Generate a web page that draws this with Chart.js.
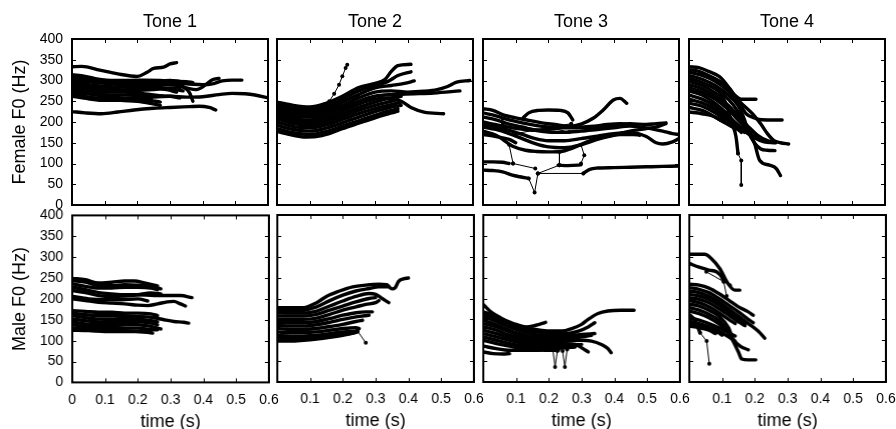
<!DOCTYPE html>
<html><head><meta charset="utf-8">
<script src="https://cdn.jsdelivr.net/npm/chart.js@4.4.0/dist/chart.umd.min.js"></script>
<style>
html,body{margin:0;padding:0;background:#fff;}
#wrap{position:relative;width:896px;height:429px;overflow:hidden;background:#fff;}
#wrap canvas{position:absolute;}
</style></head><body><div id="wrap"></div>
<script>
// ---------- labels ----------
const TONES = ['Tone 1', 'Tone 2', 'Tone 3', 'Tone 4'];
const ROW_LABELS = ['Female F0 (Hz)', 'Male F0 (Hz)'];
const X_LABEL = 'time (s)';
const X_TICKS = [0, 0.1, 0.2, 0.3, 0.4, 0.5, 0.6];
const X_TICK_LABELS = ['0', '0.1', '0.2', '0.3', '0.4', '0.5', '0.6'];
const Y_TICKS = [0, 50, 100, 150, 200, 250, 300, 350, 400];

// ---------- F0 contours: [time (s), F0 (Hz)] ----------
const FEMALE_T1 = [
 [[0,333],[0.03,334],[0.085,325],[0.14,316],[0.2,310],[0.23,320],[0.25,329],[0.28,332],[0.3,340],[0.32,343]],
 [[0,225],[0.04,222],[0.09,220],[0.14,224],[0.19,229],[0.25,233],[0.3,235],[0.36,237],[0.39,238],[0.42,235],[0.44,229]],
 [[0,272],[0.05,268],[0.1,266],[0.15,265],[0.2,264],[0.25,262],[0.3,262],[0.35,260],[0.4,261],[0.45,266],[0.49,269],[0.53,268],[0.56,265],[0.6,258]],
 [[0,305],[0.05,300],[0.1,298],[0.15,296],[0.2,295],[0.25,294],[0.3,293],[0.35,292],[0.4,290],[0.43,292],[0.46,299],[0.49,301],[0.52,301]],
 [[0,300],[0.05,297],[0.1,293],[0.15,291],[0.2,290],[0.25,291],[0.3,290],[0.35,282],[0.38,278],[0.41,290],[0.43,302],[0.45,305]],
 [[0,285],[0.05,283],[0.1,282],[0.15,284],[0.2,288],[0.25,291],[0.3,291],[0.34,285],[0.36,270],[0.37,250]],
 [[0,314],[0.04,310],[0.08,303],[0.12,300],[0.17,300],[0.22,301],[0.27,300],[0.31,298],[0.35,297],[0.37,295]],
 [[0,295],[0.05,290],[0.1,286],[0.15,284],[0.2,283],[0.25,282],[0.29,278],[0.32,272]],
 [[0,290],[0.05,283],[0.1,278],[0.15,276],[0.2,276],[0.25,278],[0.3,282],[0.33,280]],
 [[0,280],[0.05,275],[0.1,272],[0.15,272],[0.2,270],[0.25,265],[0.28,262]],
 [[0,276],[0.05,268],[0.1,262],[0.15,258],[0.2,256],[0.24,252],[0.27,248]],
 [[0,268],[0.05,260],[0.1,256],[0.15,252],[0.2,250],[0.24,245],[0.27,240]],
 [[0,262],[0.05,256],[0.1,252],[0.15,252],[0.2,255],[0.25,260],[0.3,262],[0.33,258]],
 [[0,308],[0.05,303],[0.1,300],[0.15,298],[0.2,297],[0.25,298],[0.3,300],[0.33,298]],
 [[0,283],[0.05,279],[0.1,280],[0.15,285],[0.2,287],[0.25,285],[0.3,280],[0.34,275]]
];
const FEMALE_T1_LINKS = [];

const FEMALE_T2 = [
 [[0,238],[0.05,230],[0.1,228],[0.145,232]],
 [[0,248],[0.05,240],[0.1,236],[0.15,245],[0.2,262],[0.25,283],[0.3,293],[0.33,302],[0.35,322],[0.37,336],[0.41,339]],
 [[0,242],[0.05,233],[0.1,230],[0.15,238],[0.2,255],[0.25,275],[0.3,288],[0.34,298],[0.37,312],[0.41,321]],
 [[0,236],[0.05,226],[0.1,224],[0.15,232],[0.2,248],[0.25,266],[0.3,282],[0.35,288],[0.39,293],[0.42,299]],
 [[0,230],[0.05,220],[0.1,218],[0.15,226],[0.2,240],[0.25,258],[0.3,272],[0.35,275],[0.4,272],[0.45,274],[0.49,278],[0.52,285],[0.55,296],[0.59,300]],
 [[0,224],[0.05,214],[0.1,212],[0.15,220],[0.2,234],[0.25,250],[0.3,262],[0.35,266],[0.42,268],[0.48,270],[0.56,275]],
 [[0,220],[0.05,208],[0.1,205],[0.15,213],[0.2,227],[0.25,243],[0.3,255],[0.34,258],[0.38,250],[0.41,235],[0.45,224],[0.51,220]],
 [[0,214],[0.05,202],[0.1,199],[0.15,206],[0.2,220],[0.25,235],[0.3,248],[0.35,258],[0.38,262]],
 [[0,208],[0.05,196],[0.1,193],[0.15,200],[0.2,213],[0.25,228],[0.3,240],[0.35,250],[0.37,254]],
 [[0,200],[0.05,189],[0.1,186],[0.15,193],[0.2,206],[0.25,220],[0.3,232],[0.35,242],[0.38,248]],
 [[0,192],[0.05,182],[0.1,178],[0.15,185],[0.2,198],[0.25,212],[0.3,225],[0.35,236],[0.38,240]],
 [[0,184],[0.05,174],[0.1,170],[0.15,177],[0.2,190],[0.25,203],[0.3,216],[0.34,226],[0.37,232]],
 [[0,177],[0.05,168],[0.08,164],[0.12,165],[0.16,172],[0.2,184],[0.25,197],[0.3,210],[0.35,222],[0.37,226]]
];
const FEMALE_T2_LINKS = [
 [[0.145,232],[0.16,250],[0.175,268],[0.19,290],[0.2,310],[0.21,330],[0.215,338]]
];

const FEMALE_T3 = [
 [[0,232],[0.03,228],[0.06,218],[0.1,210],[0.14,204],[0.18,198],[0.22,194],[0.26,190],[0.3,188],[0.34,190],[0.38,194],[0.42,196],[0.46,193]],
 [[0,222],[0.04,215],[0.08,205],[0.12,198],[0.16,192],[0.2,188],[0.25,186],[0.3,186],[0.35,188],[0.4,192],[0.45,196],[0.5,194],[0.53,196],[0.56,198]],
 [[0,212],[0.04,205],[0.08,195],[0.12,188],[0.16,180],[0.2,176],[0.25,175],[0.3,178],[0.35,182],[0.4,186],[0.45,190],[0.5,186],[0.55,178],[0.58,172],[0.6,170]],
 [[0,200],[0.05,192],[0.1,185],[0.15,180],[0.2,182],[0.25,188],[0.3,195],[0.337,209],[0.368,229],[0.399,253],[0.419,257],[0.44,245]],
 [[0,195],[0.04,188],[0.08,180],[0.12,170],[0.16,160],[0.2,155],[0.25,155],[0.3,160],[0.35,166],[0.4,172],[0.45,175],[0.5,165],[0.53,150],[0.55,147],[0.58,152],[0.6,160]],
 [[0,188],[0.04,182],[0.08,172],[0.12,160],[0.16,148],[0.2,140],[0.25,138],[0.3,145],[0.35,158],[0.4,168],[0.45,178],[0.5,184],[0.54,190],[0.56,196]],
 [[0,178],[0.04,168],[0.093,141],[0.13,132],[0.164,129],[0.2,128],[0.24,129],[0.27,136],[0.297,145],[0.33,156],[0.37,164],[0.42,170],[0.46,170],[0.48,168]],
 [[0.123,210],[0.14,222],[0.17,228],[0.2,229],[0.236,228],[0.26,222],[0.275,205]],
 [[0,170],[0.04,165],[0.08,158],[0.1,150]],
 [[0,104],[0.03,104],[0.06,103],[0.08,100]],
 [[0,84],[0.03,83],[0.06,80],[0.09,72],[0.113,68],[0.14,64]],
 [[0.307,76],[0.327,86],[0.35,89],[0.4,90],[0.45,91],[0.5,92],[0.55,93],[0.6,94]],
 [[0.23,96],[0.26,95],[0.29,96],[0.3,97]]
];
const FEMALE_T3_LINKS = [
 [[0.061,208],[0.264,176]],
 [[0.061,196],[0.2,179]],
 [[0.1,172],[0.27,196]],
 [[0.08,145],[0.092,100]],
 [[0.092,100],[0.16,88]],
 [[0.14,64],[0.158,30],[0.168,76]],
 [[0.168,76],[0.234,96]],
 [[0.234,128],[0.234,96]],
 [[0.168,76],[0.307,76]],
 [[0.3,145],[0.31,120],[0.3,100]]
];

const FEMALE_T4 = [
 [[0,333],[0.03,331],[0.06,322],[0.094,309],[0.124,281],[0.155,244],[0.175,220],[0.2,210],[0.216,206],[0.25,205],[0.285,205]],
 [[0,326],[0.03,322],[0.06,312],[0.09,300],[0.12,283],[0.14,265],[0.16,255],[0.18,255],[0.205,255]],
 [[0,320],[0.04,312],[0.08,298],[0.12,275],[0.16,245],[0.2,215],[0.22,195],[0.24,172],[0.26,155],[0.28,150],[0.305,147]],
 [[0,312],[0.04,303],[0.08,288],[0.12,265],[0.15,240],[0.17,205],[0.18,180],[0.2,150],[0.22,135],[0.24,132],[0.263,131]],
 [[0,305],[0.04,295],[0.08,280],[0.12,255],[0.15,225],[0.18,180],[0.2,150],[0.216,108],[0.246,96],[0.267,88],[0.28,71]],
 [[0,298],[0.04,288],[0.08,270],[0.11,250],[0.13,200],[0.144,164],[0.15,124]],
 [[0,290],[0.04,280],[0.08,262],[0.12,240],[0.15,215],[0.18,190],[0.21,168],[0.24,155],[0.265,150]],
 [[0,282],[0.04,272],[0.08,255],[0.12,230],[0.15,205],[0.18,180],[0.2,165],[0.22,160]],
 [[0,275],[0.04,265],[0.08,245],[0.11,225],[0.14,200],[0.17,180],[0.19,170]],
 [[0,265],[0.04,255],[0.08,238],[0.11,220],[0.14,198],[0.17,178],[0.2,162],[0.23,152],[0.26,150]],
 [[0,255],[0.04,246],[0.08,230],[0.11,212],[0.14,190],[0.16,175]],
 [[0,245],[0.04,238],[0.08,222],[0.11,205],[0.14,188],[0.17,175]],
 [[0,235],[0.04,228],[0.08,212],[0.11,198],[0.14,185]],
 [[0,224],[0.04,220],[0.07,215],[0.1,203],[0.13,192],[0.15,182]]
];
const FEMALE_T4_LINKS = [
 [[0.15,124],[0.16,107],[0.16,48]]
];

const MALE_T1 = [
 [[0,249],[0.04,246],[0.08,238],[0.12,240],[0.16,243],[0.19,243],[0.22,238],[0.26,231]],
 [[0,244],[0.04,240],[0.08,232],[0.12,232],[0.16,234],[0.2,233],[0.24,230],[0.27,224]],
 [[0,236],[0.04,230],[0.08,226],[0.12,226],[0.16,228],[0.2,228],[0.24,226],[0.26,222]],
 [[0,228],[0.04,222],[0.08,215],[0.12,212],[0.16,210],[0.2,210],[0.25,208],[0.3,208],[0.33,208],[0.365,203]],
 [[0,220],[0.04,215],[0.08,208],[0.12,206],[0.16,207],[0.2,210],[0.24,214],[0.27,212]],
 [[0,206],[0.05,200],[0.1,198],[0.15,198],[0.2,200],[0.23,195]],
 [[0,200],[0.04,196],[0.08,192],[0.12,190],[0.16,188],[0.2,185],[0.23,184],[0.26,188],[0.29,193],[0.31,194],[0.33,188],[0.345,183]],
 [[0,172],[0.04,170],[0.08,168],[0.12,168],[0.16,166],[0.2,166],[0.24,164],[0.26,160]],
 [[0,166],[0.04,162],[0.08,160],[0.12,160],[0.16,160],[0.2,158],[0.24,156],[0.28,150],[0.31,146],[0.34,144],[0.355,142]],
 [[0,160],[0.04,155],[0.08,152],[0.12,152],[0.16,153],[0.2,152],[0.24,148],[0.26,145]],
 [[0,152],[0.04,148],[0.08,145],[0.12,146],[0.16,146],[0.2,146],[0.24,142],[0.26,138]],
 [[0,145],[0.04,140],[0.08,138],[0.12,138],[0.16,138],[0.2,138],[0.24,134],[0.27,128]],
 [[0,138],[0.04,134],[0.08,132],[0.12,132],[0.16,130],[0.2,130],[0.23,127],[0.26,126]],
 [[0,130],[0.04,128],[0.08,126],[0.12,126],[0.16,124],[0.2,122],[0.23,120],[0.245,118]],
 [[0,125],[0.05,124],[0.1,122],[0.15,122],[0.2,122],[0.24,120]]
];
const MALE_T1_LINKS = [];

const MALE_T2 = [
 [[0,178],[0.04,178],[0.08,178],[0.12,190],[0.15,205],[0.19,218],[0.23,228],[0.27,232],[0.31,234],[0.334,233],[0.35,223],[0.36,226],[0.37,241],[0.385,247],[0.4,249]],
 [[0,172],[0.04,172],[0.08,172],[0.12,180],[0.16,195],[0.2,208],[0.24,218],[0.28,224],[0.31,228],[0.34,228]],
 [[0,166],[0.04,165],[0.08,165],[0.12,170],[0.16,182],[0.2,194],[0.24,205],[0.28,212],[0.3,210],[0.32,200],[0.34,190]],
 [[0,158],[0.04,158],[0.08,158],[0.12,162],[0.16,172],[0.2,182],[0.24,192],[0.28,200],[0.3,202]],
 [[0,150],[0.04,150],[0.08,150],[0.12,153],[0.16,162],[0.2,172],[0.24,180],[0.27,186],[0.3,190],[0.31,195]],
 [[0,142],[0.04,142],[0.08,142],[0.12,145],[0.16,152],[0.2,160],[0.24,166],[0.27,168],[0.29,168]],
 [[0,135],[0.04,134],[0.08,134],[0.12,137],[0.16,143],[0.2,150],[0.24,156],[0.28,160]],
 [[0,128],[0.04,126],[0.08,126],[0.12,128],[0.16,133],[0.2,138],[0.24,145],[0.26,148]],
 [[0,120],[0.04,118],[0.08,118],[0.12,120],[0.16,124],[0.2,128],[0.24,130],[0.25,128]],
 [[0,112],[0.04,110],[0.08,110],[0.12,112],[0.16,116],[0.2,120],[0.24,122],[0.245,124]],
 [[0,105],[0.04,104],[0.08,104],[0.12,106],[0.16,110],[0.2,114],[0.24,119],[0.245,122]],
 [[0,98],[0.04,98],[0.08,100],[0.12,103],[0.16,107],[0.2,112],[0.23,117],[0.245,120]]
];
const MALE_T2_LINKS = [
 [[0.245,122],[0.27,94]]
];

const MALE_T3 = [
 [[0,186],[0.02,170],[0.05,155],[0.08,142],[0.12,132],[0.16,126],[0.2,122],[0.24,122],[0.27,128],[0.3,138],[0.32,150],[0.35,164],[0.38,170],[0.42,172],[0.46,172]],
 [[0,168],[0.03,160],[0.06,150],[0.1,138],[0.13,132],[0.16,136],[0.19,143]],
 [[0,162],[0.03,155],[0.06,145],[0.1,132],[0.15,122],[0.2,116],[0.25,116],[0.29,122],[0.32,132],[0.34,142]],
 [[0,155],[0.03,148],[0.06,138],[0.1,126],[0.15,115],[0.2,110],[0.25,110],[0.3,114],[0.34,116]],
 [[0,148],[0.03,140],[0.06,130],[0.1,118],[0.15,108],[0.2,104],[0.25,104],[0.3,108],[0.33,112]],
 [[0,140],[0.04,132],[0.08,120],[0.12,110],[0.16,102],[0.2,98],[0.25,98],[0.3,100],[0.33,98],[0.36,90],[0.38,80],[0.39,70]],
 [[0,132],[0.04,124],[0.08,112],[0.12,104],[0.16,96],[0.2,92],[0.25,92],[0.28,90],[0.3,82],[0.32,72]],
 [[0,124],[0.04,116],[0.08,106],[0.12,98],[0.16,92],[0.2,88],[0.24,88],[0.27,88],[0.3,90]],
 [[0,116],[0.04,108],[0.08,100],[0.12,92],[0.16,86],[0.2,82],[0.24,82],[0.28,84]],
 [[0,108],[0.04,100],[0.08,92],[0.12,86],[0.16,82],[0.2,80],[0.24,82],[0.27,86]],
 [[0,100],[0.04,92],[0.08,86],[0.12,80],[0.16,78],[0.2,76],[0.23,76]],
 [[0,86],[0.04,80],[0.08,76],[0.12,76],[0.16,76],[0.2,78]],
 [[0,72],[0.03,68],[0.06,67],[0.08,68]]
];
const MALE_T3_LINKS = [
 [[0.212,78],[0.219,36],[0.226,74]],
 [[0.242,74],[0.249,36],[0.256,78]]
];

const MALE_T4 = [
 [[0,306],[0.047,306],[0.067,296],[0.093,272],[0.118,236],[0.139,220],[0.154,220]],
 [[0,284],[0.03,275],[0.06,268],[0.083,264],[0.1,250],[0.105,240]],
 [[0,234],[0.03,232],[0.06,225],[0.09,212],[0.12,196],[0.15,180],[0.18,168],[0.195,160]],
 [[0,226],[0.03,222],[0.06,214],[0.09,200],[0.12,184],[0.15,168],[0.18,150],[0.195,142]],
 [[0,218],[0.03,214],[0.06,205],[0.09,192],[0.12,175],[0.15,158],[0.18,140],[0.21,122],[0.23,105]],
 [[0,210],[0.03,206],[0.06,198],[0.09,185],[0.12,168],[0.15,150],[0.17,140]],
 [[0,202],[0.03,198],[0.06,190],[0.09,176],[0.12,160],[0.15,144],[0.17,135]],
 [[0,195],[0.03,190],[0.06,180],[0.09,166],[0.12,150],[0.14,140]],
 [[0,186],[0.03,182],[0.06,172],[0.09,158],[0.12,130],[0.134,102],[0.155,86],[0.18,77]],
 [[0,178],[0.03,172],[0.06,162],[0.09,148],[0.12,118],[0.135,96],[0.15,72],[0.16,55],[0.18,53],[0.203,53]],
 [[0,170],[0.03,164],[0.06,154],[0.09,140],[0.11,125],[0.13,112]],
 [[0,162],[0.015,150],[0.033,118]],
 [[0,155],[0.03,148],[0.06,140],[0.09,130],[0.12,118],[0.14,110]],
 [[0,146],[0.03,140],[0.06,132],[0.09,122],[0.12,108],[0.14,98]],
 [[0,140],[0.03,136],[0.06,128],[0.09,118],[0.1,112]],
 [[0,134],[0.03,130],[0.06,124],[0.08,116]]
];
const MALE_T4_LINKS = [
 [[0.105,240],[0.114,206]],
 [[0.052,264],[0.124,232]],
 [[0.033,118],[0.053,98],[0.061,44]]
];

// ---------- panel grid ----------
const PANELS = [
  [[FEMALE_T1, FEMALE_T1_LINKS], [FEMALE_T2, FEMALE_T2_LINKS], [FEMALE_T3, FEMALE_T3_LINKS], [FEMALE_T4, FEMALE_T4_LINKS]],
  [[MALE_T1, MALE_T1_LINKS], [MALE_T2, MALE_T2_LINKS], [MALE_T3, MALE_T3_LINKS], [MALE_T4, MALE_T4_LINKS]]
];

// ---------- layout ----------
const PLOT_LEFT = [72, 277, 483, 689];
const PLOT_W = 196;
const PLOT_TOP = [39, 215];
const PLOT_H = [166, 167];
const FONT = '"Liberation Sans", Arial, Helvetica, sans-serif';

const framePlugin = {
  id: 'frame',
  afterDraw(chart) {
    const {ctx, chartArea: a, scales} = chart;
    const xs = scales.x, ys = scales.y;
    ctx.save();
    ctx.strokeStyle = '#000';
    ctx.lineWidth = 1;
    ctx.beginPath();
    X_TICKS.forEach(v => {
      const p = Math.round(xs.getPixelForValue(v)) + 0.5;
      ctx.moveTo(p, a.bottom); ctx.lineTo(p, a.bottom - 4);
      ctx.moveTo(p, a.top); ctx.lineTo(p, a.top + 4);
    });
    Y_TICKS.forEach(v => {
      const p = Math.round(ys.getPixelForValue(v)) + 0.5;
      ctx.moveTo(a.left, p); ctx.lineTo(a.left + 4, p);
      ctx.moveTo(a.right, p); ctx.lineTo(a.right - 4, p);
    });
    ctx.stroke();
    ctx.lineWidth = 2;
    ctx.strokeRect(a.left, a.top, a.right - a.left, a.bottom - a.top);
    ctx.restore();
  }
};

const wrap = document.getElementById('wrap');

for (let r = 0; r < 2; r++) {
  for (let c = 0; c < 4; c++) {
    const [contours, links] = PANELS[r][c];
    const padL = c === 0 ? 0 : 6;
    const yAxisW = c === 0 ? 72 : 0;
    const padR = 14;
    const canvasLeft = PLOT_LEFT[c] - padL - yAxisW;
    const topSpace = r === 0 ? 39 : 10;
    const bottomSpace = r === 0 ? 10 : 50;
    const width = padL + yAxisW + PLOT_W + padR;
    const height = topSpace + PLOT_H[r] + bottomSpace;
    const canvas = document.createElement('canvas');
    canvas.width = width; canvas.height = height;
    canvas.style.width = width + 'px'; canvas.style.height = height + 'px';
    canvas.style.left = canvasLeft + 'px';
    canvas.style.top = (PLOT_TOP[r] - topSpace) + 'px';
    wrap.appendChild(canvas);

    const datasets = [];
    contours.forEach(pts => datasets.push({
      data: pts, borderColor: '#000', backgroundColor: '#000', borderWidth: 3.4,
      pointRadius: 0, cubicInterpolationMode: 'monotone', fill: false,
      borderCapStyle: 'round', borderJoinStyle: 'round'
    }));
    links.forEach(pts => datasets.push({
      data: pts, borderColor: '#000', backgroundColor: '#000', borderWidth: 1,
      pointRadius: 2, pointBorderWidth: 0, pointBackgroundColor: '#000', tension: 0, fill: false
    }));

    const chart = new Chart(canvas, {
      type: 'line',
      data: { datasets },
      plugins: [framePlugin],
      options: {
        responsive: false, maintainAspectRatio: false, animation: false, events: [],
        devicePixelRatio: 1,
        layout: { padding: { left: padL, right: padR, top: r === 0 ? 0 : topSpace, bottom: r === 0 ? bottomSpace : 0 } },
        plugins: {
          legend: { display: false }, tooltip: { enabled: false },
          title: {
            display: r === 0, text: TONES[c], fullSize: false, color: '#000',
            font: { family: FONT, size: 18, weight: 'normal', lineHeight: 1.2 },
            padding: { top: 11, bottom: 6.4 }
          }
        },
        scales: {
          x: {
            type: 'linear', min: 0, max: 0.6, display: r === 1,
            grid: { display: false, drawTicks: false },
            border: { display: false },
            afterFit: s => { s.height = 50; },
            ticks: {
              stepSize: 0.1, autoSkip: false, maxRotation: 0, padding: 9, color: '#000',
              font: { family: FONT, size: 14 },
              callback: v => {
                const i = Math.round(v * 10);
                if (c > 0 && i === 0) return '';
                return X_TICK_LABELS[i];
              }
            },
            title: {
              display: true, text: X_LABEL, color: '#000',
              font: { family: FONT, size: 18, lineHeight: 1.2 },
              padding: { top: 0, bottom: 0 }
            }
          },
          y: {
            type: 'linear', min: 0, max: 400, display: c === 0,
            grid: { display: false, drawTicks: false },
            border: { display: false },
            afterFit: s => { s.width = 72; },
            ticks: { stepSize: 50, padding: 9, color: '#000', font: { family: FONT, size: 14 } },
            title: {
              display: true, text: ROW_LABELS[r], color: '#000',
              font: { family: FONT, size: 18, lineHeight: 1.2 },
              padding: { top: 9, bottom: 0 }
            }
          }
        }
      }
    });

    // align the chart area precisely with the intended panel box
    const a = chart.chartArea;
    const dw = PLOT_W - (a.right - a.left);
    const dh = PLOT_H[r] - (a.bottom - a.top);
    if (Math.abs(dw) > 0.01 || Math.abs(dh) > 0.01) {
      chart.resize(width + dw, height + dh);
    }
    const b = chart.chartArea;
    canvas.style.left = (PLOT_LEFT[c] - b.left) + 'px';
    canvas.style.top = (PLOT_TOP[r] - b.top) + 'px';
  }
}
</script>
</body></html>
